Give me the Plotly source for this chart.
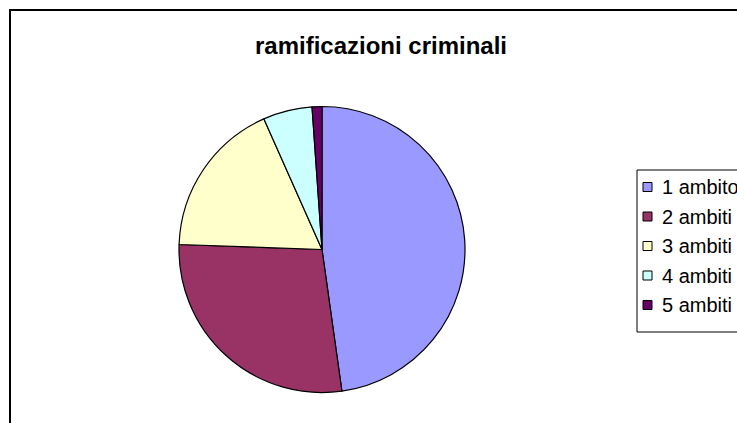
import plotly.graph_objects as go

# Data
labels = ["1 ambito", "2 ambiti", "3 ambiti", "4 ambiti", "5 ambiti"]
values = [43, 25, 16, 5, 1]
colors = ["#9999FF", "#993366", "#FFFFCC", "#CCFFFF", "#660066"]
title_text = "ramificazioni criminali"

W, H = 737, 423
FONT = "Liberation Sans, Arial, sans-serif"


def px_x(x):
    return x / W


def px_y(y):
    return 1 - y / H


# Pie placement (pixel geometry)
cx, cy, r = 322, 249.5, 143

fig = go.Figure(
    go.Pie(
        labels=labels,
        values=values,
        sort=False,
        direction="clockwise",
        rotation=0,
        marker=dict(colors=colors, line=dict(color="#000000", width=1.2)),
        textinfo="none",
        hoverinfo="label+value+percent",
        showlegend=False,
        domain=dict(x=[px_x(cx - r), px_x(cx + r)], y=[px_y(cy + r), px_y(cy - r)]),
    )
)

shapes = [
    # chart area frame
    dict(type="rect", xref="paper", yref="paper",
         x0=px_x(10), x1=px_x(W + 20), y0=px_y(H + 20), y1=px_y(10),
         line=dict(color="#000000", width=2), fillcolor="rgba(0,0,0,0)", layer="above"),
    # legend frame
    dict(type="rect", xref="paper", yref="paper",
         x0=px_x(637), x1=px_x(W + 20), y0=px_y(332), y1=px_y(170),
         line=dict(color="#000000", width=1), fillcolor="rgba(0,0,0,0)", layer="above"),
]
annotations = []

row0, gap = 187, 29.5
sq = 9
for i, (lab, col) in enumerate(zip(labels, colors)):
    yc = row0 + i * gap
    shapes.append(dict(type="rect", xref="paper", yref="paper",
                       x0=px_x(643), x1=px_x(643 + sq), y0=px_y(yc + sq / 2), y1=px_y(yc - sq / 2),
                       line=dict(color="#000000", width=1), fillcolor=col, layer="above"))
    annotations.append(dict(xref="paper", yref="paper", x=px_x(660), y=px_y(yc),
                            xanchor="left", yanchor="middle", showarrow=False,
                            text=lab, font=dict(family=FONT, size=20, color="#000000")))

fig.update_layout(
    width=W, height=H,
    margin=dict(l=0, r=0, t=0, b=0),
    paper_bgcolor="#FFFFFF",
    plot_bgcolor="#FFFFFF",
    title=dict(text=title_text, x=px_x(381), y=px_y(46), xanchor="center", yanchor="middle",
               font=dict(family=FONT, size=24, color="#000000", weight="bold")),
    shapes=shapes,
    annotations=annotations,
    showlegend=False,
)

fig.write_html("out.html")
